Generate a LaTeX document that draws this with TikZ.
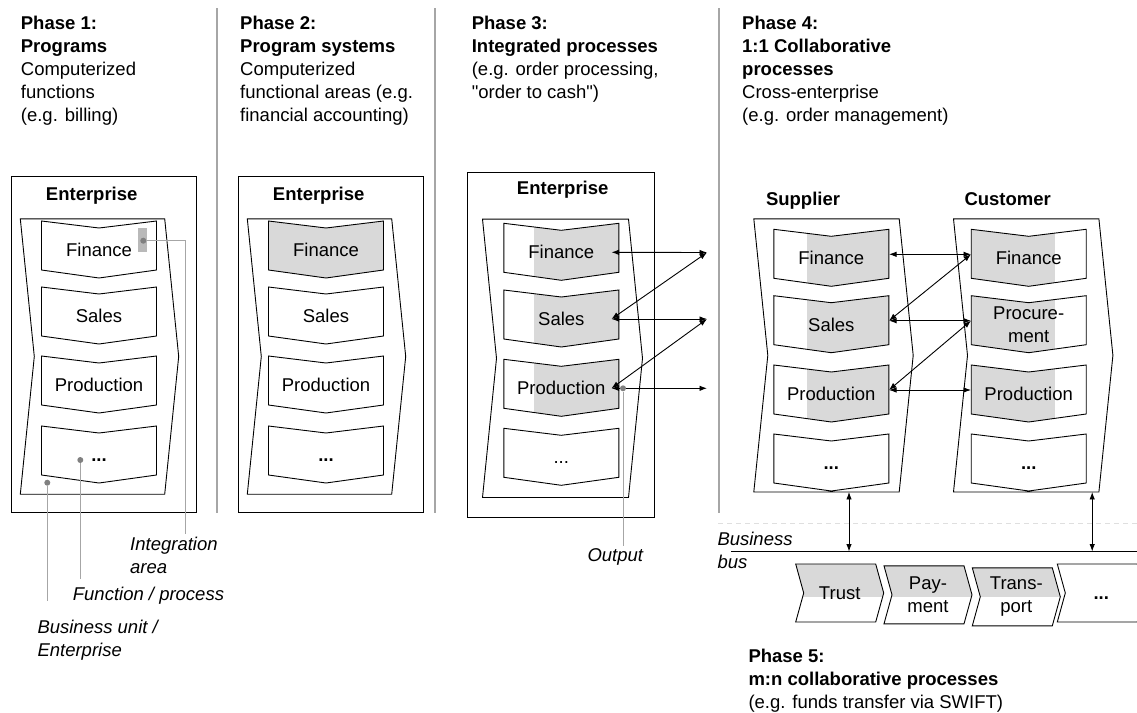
\documentclass[tikz,border=0pt]{standalone}
\usepackage{fontspec}
\setmainfont{Liberation Sans}
\usetikzlibrary{arrows.meta,backgrounds}

% outlines, drawn round the centre of a named node (pixel units)
\newcommand{\downchev}[1]{([shift={(-57.5,-29)}]#1.center) -- ([shift={(0,-22)}]#1.center) -- ([shift={(57.5,-29)}]#1.center) -- ([shift={(57.5,20)}]#1.center) -- ([shift={(0,28)}]#1.center) -- ([shift={(-57.5,20)}]#1.center) -- cycle}
\newcommand{\rightchev}[1]{([shift={(-44,-29)}]#1.center) -- ([shift={(36,-29)}]#1.center) -- ([shift={(44,0)}]#1.center) -- ([shift={(36,29)}]#1.center) -- ([shift={(-44,29)}]#1.center) -- ([shift={(-36,0)}]#1.center) -- cycle}
\newcommand{\entcontour}[1]{(#1.north west) -- (#1.north east) -- ([xshift=14pt]#1.east) -- (#1.south east) -- (#1.south west) -- ([xshift=14pt]#1.west) -- cycle}
\newcommand{\shadein}[3]{\begin{pgfonlayer}{background}\begin{scope}\clip #1; \fill[areafill] (#2) rectangle (#3);\end{scope}\end{pgfonlayer}}

\tikzset{
  funcbox/.style={inner sep=0pt, minimum width=115pt, minimum height=49pt, text height=13pt, text depth=0pt},
  busbox/.style={inner sep=0pt, minimum width=80pt, minimum height=58pt, text height=13pt, text depth=0pt},
  entbox/.style={inner sep=0pt, minimum width=145pt, minimum height=275pt},
  unitlabel/.style={inner sep=0pt, text height=13pt, text depth=0pt, font=\fontsize{18.5}{23}\selectfont\bfseries},
  phasetext/.style={anchor=north west, align=left, inner sep=0pt},
  calltext/.style={anchor=north west, align=left, inner sep=0pt, font=\fontsize{18.5}{23}\selectfont\itshape},
  areafill/.style={fill=gray!30},
  boxline/.style={line width=0.9pt},
  phasesep/.style={gray!70, line width=1.3pt},
  callout/.style={gray!70, line width=1pt},
  dot/.style={circle, fill=gray, inner sep=0pt, minimum size=6pt},
  link/.style={{Latex[length=7.5pt,width=5.5pt]}-{Latex[length=7.5pt,width=5.5pt]}, line width=0.9pt},
}

\begin{document}
\begin{tikzpicture}[x=1pt, y=-1pt, every node/.style={font=\fontsize{18.5}{23}\selectfont}]
\useasboundingbox (0,0) rectangle (1137,712);

\draw[phasesep] (217,8) -- (217,513);
\draw[phasesep] (435,8) -- (435,513);
\draw[phasesep] (719,8) -- (719,513);

\node[phasetext] (ph1) at (20.7,16) {\textbf{Phase 1:}\\\textbf{Programs}\\Computerized\\functions\\(e.g. billing)};
\node[phasetext] (ph2) at (240,16) {\textbf{Phase 2:}\\\textbf{Program systems}\\Computerized\\functional areas (e.g.\\financial accounting)};
\node[phasetext] (ph3) at (471.6,16) {\textbf{Phase 3:}\\\textbf{Integrated processes}\\(e.g. order processing,\\\textquotedbl order to cash\textquotedbl)};
\node[phasetext] (ph4) at (742,16) {\textbf{Phase 4:}\\\textbf{1:1 Collaborative}\\\textbf{processes}\\Cross-enterprise\\(e.g. order management)};
\node[phasetext] (ph5) at (748.3,648.4) {\textbf{Phase 5:}\\\textbf{m:n collaborative processes}\\(e.g. funds transfer via SWIFT)};

% Phase 1
\draw[boxline] (11,176) rectangle (196,512);
\node[unitlabel] (ent1) at (91.7,194) {Enterprise};
\node[entbox, minimum width=144pt] (c1) at (92.5,356.5) {};
\node[funcbox] (p1fin) at (99,250) {Finance};
\node[funcbox] (p1sal) at (99,316) {Sales};
\node[funcbox] (p1pro) at (99,385) {Production};
\node[funcbox] (p1etc) at (99,455) {\textbf{...}};
\draw[boxline] \entcontour{c1} \downchev{p1fin} \downchev{p1sal} \downchev{p1pro} \downchev{p1etc};
\fill[gray!55] (138.3,228.3) rectangle (147,251.7);
\node[dot] (intdot) at (143.3,240.7) {};
\node[dot] (fdot) at (80.3,460) {};
\node[dot] (bdot) at (47.3,482.7) {};
\node[calltext] (intlbl) at (130,536.7) {Integration\\area};
\node[calltext] (flbl) at (72.7,586.7) {Function / process};
\node[calltext] (blbl) at (37.3,619.4) {Business unit /\\Enterprise};
\coordinate (intbend) at (185,240.7);
\coordinate (intend) at (185,534);
\coordinate (fend) at (80.3,579);
\coordinate (bend) at (47.3,600.7);
\draw[callout] (intdot) -- (intbend) -- (intend);
\draw[callout] (fdot) -- (fend);
\draw[callout] (bdot) -- (bend);

% Phase 2
\draw[boxline] (238,176) rectangle (423,512);
\node[unitlabel] (ent2) at (318.7,194) {Enterprise};
\node[entbox, minimum width=144pt] (c2) at (319.5,356.5) {};
\node[funcbox] (p2fin) at (326,250) {Finance};
\node[funcbox] (p2sal) at (326,316) {Sales};
\node[funcbox] (p2pro) at (326,385) {Production};
\node[funcbox] (p2etc) at (326,455) {\textbf{...}};
\shadein{\downchev{p2fin}}{260,0}{400,712}
\draw[boxline] \entcontour{c2} \downchev{p2fin} \downchev{p2sal} \downchev{p2pro} \downchev{p2etc};

% Phase 3
\draw[boxline] (467,172) rectangle (654,517.5);
\node[unitlabel] (ent3) at (562.7,188.3) {Enterprise};
\node[entbox, minimum width=145.6pt, minimum height=278pt] (c3) at (555.5,358.3) {};
\node[funcbox] (p3fin) at (561.3,252.3) {Finance};
\node[funcbox] (p3sal) at (561.3,319) {Sales};
\node[funcbox] (p3pro) at (561.3,388.3) {Production};
\node[funcbox] (p3etc) at (561.3,457.3) {...};
\shadein{\downchev{p3fin}}{534,0}{620,712}
\shadein{\downchev{p3sal}}{534,0}{620,712}
\shadein{\downchev{p3pro}}{534,0}{620,712}
\draw[boxline] \entcontour{c3} \downchev{p3fin} \downchev{p3sal} \downchev{p3pro} \downchev{p3etc};
\coordinate (o1) at (707,252.5);
\coordinate (o2) at (707,319);
\coordinate (o3) at (707,388.3);
\draw[link] ([xshift=-7.5pt]p3fin.east) -- (o1);
\draw[link] ([xshift=-7.5pt]p3sal.east) -- (o1);
\draw[link] ([xshift=-7.5pt]p3sal.east) -- (o2);
\draw[link] ([xshift=-7.5pt]p3pro.east) -- (o2);
\draw[link] ([xshift=-7.5pt]p3pro.east) -- (o3);
\node[dot] (odot) at (623,388.3) {};
\node[calltext] (outlbl) at (587.3,548.4) {Output};
\coordinate (oend) at (623,545.7);
\draw[callout] (odot) -- (oend);

% Phase 4
\node[unitlabel] (sup) at (803,199.3) {Supplier};
\node[unitlabel] (cus) at (1007.7,199.3) {Customer};
\node[entbox, minimum height=272.7pt] (c4s) at (826.5,355.4) {};
\node[entbox, minimum height=272.7pt] (c4c) at (1026.2,355.4) {};
\node[funcbox] (p4sfin) at (831.3,258.3) {Finance};
\node[funcbox] (p4ssal) at (831.3,324.7) {Sales};
\node[funcbox] (p4spro) at (831.3,394) {Production};
\node[funcbox] (p4setc) at (831.3,463) {\textbf{...}};
\node[funcbox] (p4cfin) at (1028.7,258.3) {Finance};
\node[funcbox, text height={}, text depth={}, align=center] (p4cpro) at (1028.7,324.7) {Procure-\\ment};
\node[funcbox] (p4cprd) at (1028.7,394) {Production};
\node[funcbox] (p4cetc) at (1028.7,463) {\textbf{...}};
\shadein{\downchev{p4sfin}}{806.7,0}{890,712}
\shadein{\downchev{p4ssal}}{806.7,0}{890,712}
\shadein{\downchev{p4spro}}{806.7,0}{890,712}
\shadein{\downchev{p4cfin}}{970,0}{1055,712}
\shadein{\downchev{p4cpro}}{970,0}{1055,712}
\shadein{\downchev{p4cprd}}{970,0}{1055,712}
\draw[boxline] \entcontour{c4s} \downchev{p4sfin} \downchev{p4ssal} \downchev{p4spro} \downchev{p4setc};
\draw[boxline] \entcontour{c4c} \downchev{p4cfin} \downchev{p4cpro} \downchev{p4cprd} \downchev{p4cetc};
\draw[link] ([yshift=4pt]p4sfin.east) -- ([yshift=4pt]p4cfin.west);
\draw[link] ([yshift=4pt]p4ssal.east) -- ([yshift=4pt]p4cfin.west);
\draw[link] ([yshift=4pt]p4ssal.east) -- ([yshift=4pt]p4cpro.west);
\draw[link] ([yshift=4pt]p4spro.east) -- ([yshift=4pt]p4cpro.west);
\draw[link] ([yshift=4pt]p4spro.east) -- ([yshift=4pt]p4cprd.west);

% Phase 5: business bus
\draw[gray!25, line width=1pt, dash pattern=on 5pt off 4pt] (718,523.5) -- (1137,523.5);
\coordinate (busW) at (731,551.5);
\coordinate (busE) at (1137,551.5);
\draw[boxline] (busW) -- (busE);
\node[calltext] (buslbl) at (717.3,531.7) {Business\\bus};
\coordinate (supdown) at ([xshift=22.5pt]c4s.south);
\coordinate (cusdown) at ([xshift=66pt]c4c.south);
\draw[link] (supdown) -- (supdown |- busW);
\draw[link] (cusdown) -- (cusdown |- busW);
\node[busbox] (trust) at (839.7,593) {Trust};
\node[busbox, text height={}, text depth={}, align=center] (pay) at (928,594.8) {Pay-\\ment};
\node[busbox, text height={}, text depth={}, align=center] (trans) at (1016.3,596.8) {Trans-\\port};
\node[busbox] (more) at (1101.3,593) {\textbf{...}};
\shadein{\rightchev{trust}}{780,540}{1137,596.5}
\shadein{\rightchev{pay}}{780,540}{1137,596.5}
\shadein{\rightchev{trans}}{780,540}{1137,596.5}
\draw[boxline] \rightchev{trust} \rightchev{pay} \rightchev{trans} \rightchev{more};
\end{tikzpicture}
\end{document}
